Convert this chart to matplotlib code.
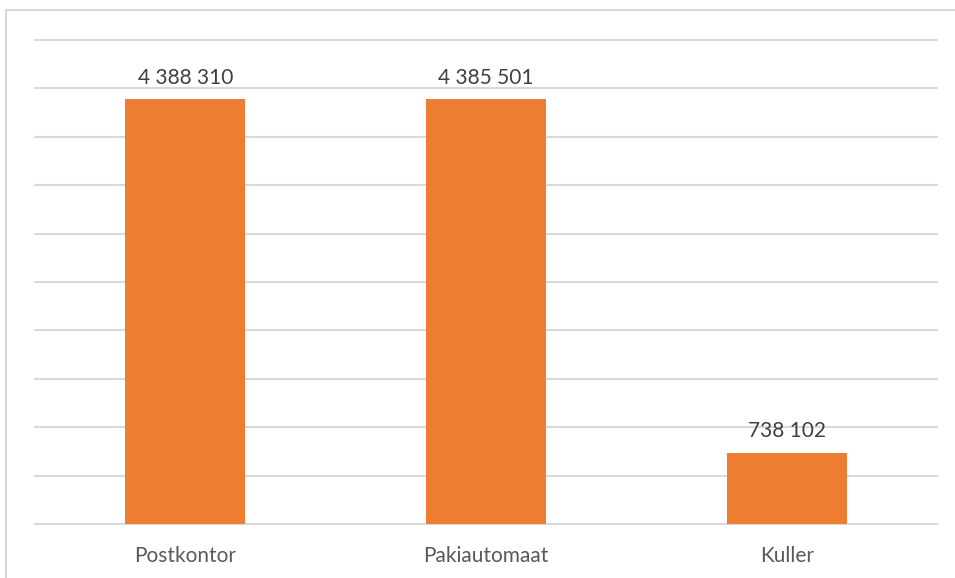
import matplotlib
matplotlib.use("Agg")
import matplotlib.pyplot as plt
from matplotlib.lines import Line2D

categories = ["Postkontor", "Pakiautomaat", "Kuller"]
values = [4388310, 4385501, 738102]

BAR_COLOR = "#ED7D31"
GRID_COLOR = "#D9D9D9"
VALUE_COLOR = "#404040"
LABEL_COLOR = "#595959"
FONT = "Lato"


def fmt_thousands(v):
    return "{:,}".format(v).replace(",", " ")


fig = plt.figure(figsize=(9.55, 5.78), dpi=100)
ax = fig.add_axes([35 / 955, 1 - 524 / 578, (937 - 35) / 955, (524 - 40) / 578])

x = range(len(categories))
bars = ax.bar(x, values, width=0.4, color=BAR_COLOR, zorder=3)

ax.set_xlim(-0.5, len(categories) - 0.5)
ax.set_ylim(0, 5000000)
ax.set_yticks([i * 500000 for i in range(11)])
ax.yaxis.grid(True, color=GRID_COLOR, linewidth=1.5, zorder=0)
for gl in ax.get_ygridlines():
    gl.set_clip_on(False)
ax.tick_params(axis="y", left=False, labelleft=False)
ax.tick_params(axis="x", bottom=False, pad=12, labelsize=15, labelcolor=LABEL_COLOR)
ax.set_xticks(list(x))
ax.set_xticklabels(categories, family=FONT)
for side in ["top", "right", "left", "bottom"]:
    ax.spines[side].set_visible(False)

for b, v in zip(bars, values):
    ax.annotate(fmt_thousands(v), (b.get_x() + b.get_width() / 2, b.get_height()),
                xytext=(0, 8), textcoords="offset points", ha="center", va="bottom",
                fontsize=15, color=VALUE_COLOR, family=FONT)

# chart frame (left and top edges visible in the reference)
fig.add_artist(Line2D([6 / 955, 6 / 955], [0, 1 - 10 / 578], transform=fig.transFigure,
                      color=GRID_COLOR, linewidth=1.5))
fig.add_artist(Line2D([6 / 955, 1], [1 - 10 / 578, 1 - 10 / 578], transform=fig.transFigure,
                      color=GRID_COLOR, linewidth=1.5))

fig.savefig("out.png", dpi=100)
